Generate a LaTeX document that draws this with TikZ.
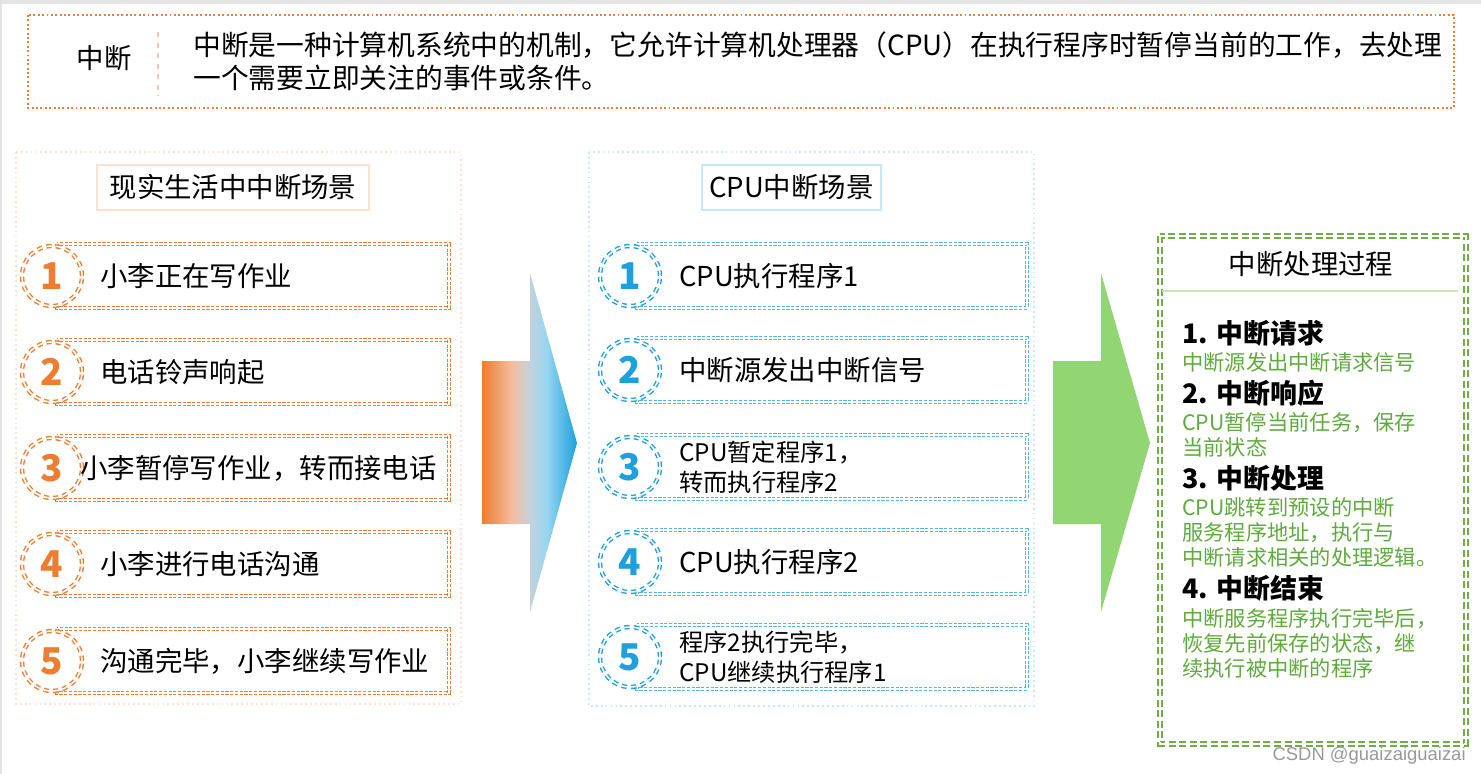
\documentclass[tikz,border=0pt]{standalone}
\usepackage{fontspec}
\setmainfont{Noto Sans CJK SC}
\newfontfamily\markfont{Liberation Sans}
\usepackage{xcolor}

\definecolor{orgA}{RGB}{237,125,49}
\definecolor{peachA}{RGB}{246,196,168}
\definecolor{peachL}{RGB}{252,224,208}
\definecolor{peachM}{RGB}{244,190,160}
\definecolor{greyblue}{RGB}{196,210,220}
\definecolor{skyA}{RGB}{150,214,240}
\definecolor{blueA}{RGB}{30,160,220}
\definecolor{blueM}{RGB}{80,182,230}
\definecolor{blueL}{RGB}{200,232,248}
\definecolor{greenA}{RGB}{112,173,71}
\definecolor{greenB}{RGB}{146,214,115}
\definecolor{greenT}{RGB}{95,170,60}
\definecolor{greenL}{RGB}{197,232,178}
\definecolor{bgrey}{RGB}{228,228,228}

\pgfdeclarehorizontalshading{flowshade}{100bp}{color(0bp)=(orgA); color(25bp)=(orgA); color(41bp)=(peachM); color(50bp)=(greyblue); color(59bp)=(skyA); color(75bp)=(blueA); color(100bp)=(blueA)}

\tikzset{
  every node/.style={inner sep=0pt},
  frame/.style={draw=orgA, line width=1.2pt, dash pattern=on 1.1pt off 1.4pt},
  panelL/.style={draw=peachL, line width=1pt, dash pattern=on 1pt off 1.8pt},
  panelM/.style={draw=blueL, line width=1pt, dash pattern=on 1pt off 1.8pt},
  rowL/.style={draw=orgA, double=white, double distance=0.9pt, line width=0.8pt, dash pattern=on 1.8pt off 0.9pt},
  rowM/.style={draw=blueM, double=white, double distance=0.9pt, line width=0.8pt, dash pattern=on 1.8pt off 0.9pt},
  numL/.style={circle, minimum size=1.2cm, fill=white, draw=orgA, double=white, double distance=0.9pt, line width=0.8pt, dash pattern=on 3pt off 2.4pt, text=orgA, font=\fontsize{21}{21}\selectfont\bfseries},
  numM/.style={numL, draw=blueA, text=blueA},
  bigtxt/.style={font=\fontsize{15.6}{18.7}\selectfont},
  twotxt/.style={font=\fontsize{13.8}{17}\selectfont, align=left},
  headtxt/.style={font=\fontsize{15.3}{18}\selectfont\bfseries},
  greentxt/.style={font=\fontsize{12.1}{14.2}\selectfont, text=greenT, align=left},
}

\begin{document}
\begin{tikzpicture}[x=0.02cm, y=-0.02cm]
\useasboundingbox (0,0) rectangle (1481,774);
\fill[bgrey] (0,0) rectangle (1481,774);
\fill[white] (2,4) rectangle (1481,774);

\draw[frame] (28,15) rectangle (1454,108);
\node[bigtxt] (term) at (104,58) {中断};
\draw[peachA, line width=0.8pt, dashed] (158,32) -- (158,96);
\node[font=\fontsize{15.8}{18.7}\selectfont, anchor=west, align=left] (termdef) at (193,61)
  {中断是一种计算机系统中的机制，它允许计算机处理器（CPU）在执行程序时暂停当前的工作，去处理\\一个需要立即关注的事件或条件。};

\draw[panelL] (16,152) rectangle (461,704);
\draw[peachL, line width=1.1pt] (97,165) rectangle (369,210);
\node[bigtxt] (lifetitle) at (233,187.5) {现实生活中中断场景};
\foreach \n/\y/\tx/\t in {1/276/100/小李正在写作业, 2/372/100/电话铃声响起, 3/468/80/小李暂停写作业，转而接电话, 4/564/100/小李进行电话沟通, 5/661/100/沟通完毕，小李继续写作业} {
  \draw[rowL] (57,\y-32) rectangle (449,\y+32);
  \node[numL] (lnum\n) at (52,\y) {\n};
  \node[bigtxt, anchor=west] (ltext\n) at (\tx,\y) {\t};
}

\draw[panelM] (589,152) rectangle (1034,706);
\draw[blueL, line width=1.1pt] (702,165) rectangle (881,210);
\node[bigtxt] (cputitle) at (791.5,187.5) {CPU中断场景};
\foreach \n/\y/\s/\t in {1/276/bigtxt/CPU执行程序1, 2/370/bigtxt/中断源发出中断信号, 3/467/twotxt/{CPU暂定程序1，\\转而执行程序2}, 4/562/bigtxt/CPU执行程序2, 5/657/twotxt/{程序2执行完毕，\\CPU继续执行程序1}} {
  \draw[rowM] (637,\y-32) rectangle (1027,\y+32);
  \node[numM] (mnum\n) at (630,\y) {\n};
  \node[\s, anchor=west] (mtext\n) at (679,\y) {\t};
}

\shade[shading=flowshade] (482,361) -- (530,361) -- (530,273) -- (577,443) -- (530,612) -- (530,524) -- (482,524) -- cycle;
\fill[greenB] (1053,361) -- (1101,361) -- (1101,273) -- (1150,443) -- (1101,612) -- (1101,524) -- (1053,524) -- cycle;

\draw[draw=greenA, double=white, double distance=1.2pt, line width=0.9pt, dash pattern=on 4pt off 2pt] (1160,236) rectangle (1466,744);
\node[bigtxt] (steptitle) at (1311,264) {中断处理过程};
\draw[greenL, line width=1.2pt] (1162,291) -- (1458,291);
\foreach \n/\hy/\dy/\h/\d in {1/333/362/中断请求/中断源发出中断请求信号, 2/393/434.5/中断响应/{CPU暂停当前任务，保存\\当前状态}, 3/478/532/中断处理/{CPU跳转到预设的中断\\服务程序地址，执行与\\中断请求相关的处理逻辑。}, 4/588/643/中断结束/{中断服务程序执行完毕后，\\恢复先前保存的状态，继\\续执行被中断的程序}} {
  \node[headtxt, anchor=west] (shead\n) at (1182,\hy) {\n. \h};
  \node[greentxt, anchor=west] (sdesc\n) at (1182,\dy) {\d};
}

\node[anchor=east, text=black!40, font=\markfont\fontsize{10.5}{12}\selectfont] (mark) at (1466,756) {CSDN @guaizaiguaizai};
\end{tikzpicture}
\end{document}
